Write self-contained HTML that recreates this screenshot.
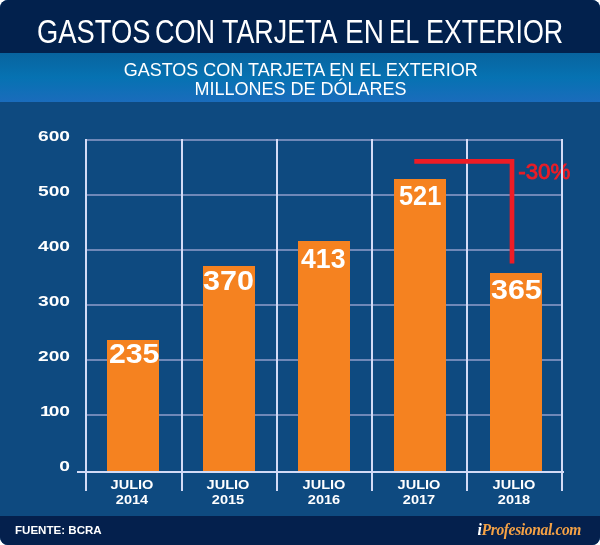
<!DOCTYPE html>
<html lang="es">
<head>
<meta charset="utf-8">
<title>Gastos con tarjeta en el exterior</title>
<style>
html,body{margin:0;padding:0;background:#fff;}
body{width:600px;height:545px;overflow:hidden;font-family:"Liberation Sans",sans-serif;}
#card{position:absolute;left:0;top:0;width:600px;height:545px;border-radius:8px;overflow:hidden;background:#0e4a80;}
#title{position:absolute;left:0;top:0;width:600px;height:53px;background:#02214d;}
#title span{position:absolute;top:11.5px;color:#fff;font-size:33px;line-height:40px;white-space:nowrap;transform-origin:0 50%;}
#sub{position:absolute;left:0;top:53px;width:600px;height:49px;background:linear-gradient(#08649f,#0672b2 50%,#1a6cbc);}
#sub div{position:absolute;left:0;width:600px;text-align:center;color:#fff;font-size:18px;line-height:20px;white-space:nowrap;}
.yl{position:absolute;left:21.6px;width:48px;text-align:right;color:#fff;font-weight:bold;font-size:15px;line-height:15px;transform:scaleX(1.28);transform-origin:100% 50%;}
.hl{position:absolute;left:86px;width:477px;height:2px;background:#6f88b8;}
.vl{z-index:2;position:absolute;top:139px;width:2px;height:351.5px;background:#d3dbf6;}
.bar{z-index:3;position:absolute;background:#f58220;width:52px;}
.val{z-index:4;position:absolute;color:#fff;font-weight:bold;font-size:28.5px;line-height:28px;white-space:nowrap;transform-origin:0 50%;}
.xl{position:absolute;top:478px;width:96px;text-align:center;color:#fff;font-weight:bold;font-size:13px;line-height:14.5px;transform:scaleX(1.12);}
#foot{position:absolute;left:0;top:516px;width:600px;height:29px;background:#04204d;}
#src{position:absolute;left:14.8px;top:7.3px;color:#fff;font-weight:bold;font-size:11.5px;line-height:14px;transform:scaleX(1.005);transform-origin:0 50%;white-space:nowrap;}
#logo{position:absolute;right:18.7px;top:3.7px;font-family:"Liberation Serif",serif;font-style:italic;font-weight:bold;font-size:17px;line-height:20px;color:#f4a145;white-space:nowrap;letter-spacing:-0.4px;transform:scaleX(0.915);transform-origin:100% 50%;}
#logo b{color:#fff;}
</style>
</head>
<body>
<div id="card">
  <div id="title"><span style="left:36.6px;transform:scaleX(0.828)">GASTOS</span> <span style="left:155.1px;transform:scaleX(0.820)">CON</span> <span style="left:221.7px;transform:scaleX(0.814)">TARJETA</span> <span style="left:344.8px;transform:scaleX(0.850)">EN</span> <span style="left:389.4px;transform:scaleX(0.750)">EL</span> <span style="left:426.1px;transform:scaleX(0.813)">EXTERIOR</span></div>
  <div id="sub">
    <div style="top:6.5px;left:0.7px">GASTOS CON TARJETA EN EL EXTERIOR</div>
    <div style="top:26.4px;left:0.5px">MILLONES DE DÓLARES</div>
  </div>

  <div class="yl" style="top:127.5px">600</div>
  <div class="yl" style="top:182.5px">500</div>
  <div class="yl" style="top:237.5px">400</div>
  <div class="yl" style="top:292.5px">300</div>
  <div class="yl" style="top:347.5px">200</div>
  <div class="yl" style="top:402.5px"><span style="letter-spacing:-1.7px">1</span>00</div>
  <div class="yl" style="top:457.5px">0</div>

  <div class="hl" style="top:138.9px"></div>
  <div class="hl" style="top:194.1px"></div>
  <div class="hl" style="top:249.1px"></div>
  <div class="hl" style="top:303.6px"></div>
  <div class="hl" style="top:358.5px"></div>
  <div class="hl" style="top:413.6px"></div>

  <div class="vl" style="left:84.7px"></div>
  <div class="vl" style="left:180.5px"></div>
  <div class="vl" style="left:276.0px"></div>
  <div class="vl" style="left:370.9px"></div>
  <div class="vl" style="left:466.2px"></div>
  <div class="vl" style="left:561.3px"></div>

  <div class="bar" style="left:107px;top:340px;height:131px"></div>
  <div class="bar" style="left:202.6px;top:266.3px;height:205px"></div>
  <div class="bar" style="left:298.2px;top:240.7px;height:231px"></div>
  <div class="bar" style="left:394.1px;top:179.2px;height:292px"></div>
  <div class="bar" style="left:489.5px;top:273.4px;height:198px"></div>

  <div id="base" style="z-index:5;position:absolute;left:77px;top:470.6px;width:487px;height:2px;background:#d3dbf6"></div>

  <div class="val" id="v1" style="left:109.3px;top:339.3px;transform:scaleX(1.06)">235</div>
  <div class="val" id="v2" style="left:203.1px;top:265.7px;transform:scaleX(1.07)">370</div>
  <div class="val" id="v3" style="left:300.8px;top:243.5px;transform:scaleX(0.935)">413</div>
  <div class="val" id="v4" style="left:398.6px;top:181.3px;transform:scaleX(0.89)">521</div>
  <div class="val" id="v5" style="left:491.3px;top:275px;transform:scaleX(1.065)">365</div>

  <svg style="position:absolute;left:0;top:0;z-index:3" width="600" height="545">
    <path d="M414.3 161.4 H512 V263.6" fill="none" stroke="#ee1c25" stroke-width="4.7"/>
  </svg>
  <div id="pct" style="position:absolute;left:518.3px;top:159.3px;color:#ee1c25;font-size:22.3px;line-height:26px;z-index:1;-webkit-text-stroke:0.8px #ee1c25;white-space:nowrap;transform:scaleX(1.0);transform-origin:0 50%;">-30%</div>

  <div class="xl" style="left:83.5px">JULIO<br>2014</div>
  <div class="xl" style="left:179.5px">JULIO<br>2015</div>
  <div class="xl" style="left:275.5px">JULIO<br>2016</div>
  <div class="xl" style="left:370.5px">JULIO<br>2017</div>
  <div class="xl" style="left:465.5px">JULIO<br>2018</div>

  <div id="foot">
    <div id="src">FUENTE: BCRA</div>
    <div id="logo"><b>i</b>Profesional.com</div>
  </div>
</div>
</body>
</html>
